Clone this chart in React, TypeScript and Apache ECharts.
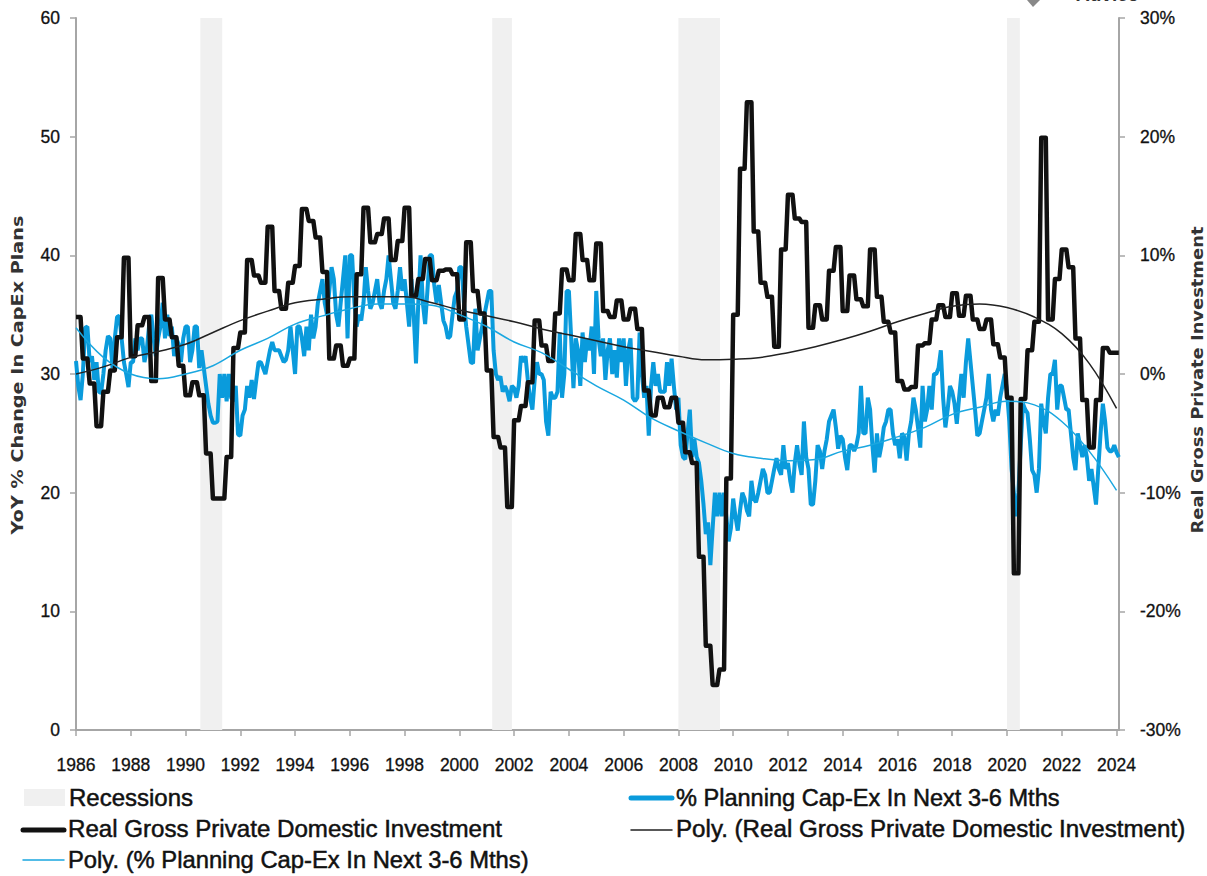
import React, { useEffect, useRef } from "react";
import * as echarts from "echarts";

const FONT = "'Liberation Sans', Arial, sans-serif";
const TITLE_FONT = "'DejaVu Sans', Verdana, sans-serif";
const START_YEAR = 1986;

const yearTicks = [1986, 1988, 1990, 1992, 1994, 1996, 1998, 2000, 2002, 2004, 2006, 2008, 2010, 2012, 2014, 2016, 2018, 2020, 2022, 2024];

// recession spans in decimal years
const recessionSpans = [
  [1990.54, 1991.34],
  [2001.2, 2001.92],
  [2008.0, 2009.52],
  [2020.0, 2020.47],
];

// % planning cap-ex in next 3-6 months, monthly from Jan 1986 (left axis)
const capexPlans = [
  31.1, 29, 27.8, 30, 33.9, 34, 31, 31.5, 29.5, 31, 28.5, 28.4,
  30, 32, 33.2, 33, 30.5, 33, 34.8, 34.9, 33, 31, 30, 28.9,
  31, 31, 33, 32, 33, 33, 31, 32, 34, 35, 33, 31.5,
  33, 34, 36, 33, 35, 33.2, 34, 31.5, 33, 32.5, 31, 33,
  34, 34, 31, 32, 34, 34, 30.5, 32, 30.5, 29, 27.5, 26.5,
  25.9, 25.9, 26, 30, 28, 30, 27.7, 30, 28, 27.7, 29, 24.9,
  24.8, 26.5, 27, 29, 28, 29.5, 27.9, 29.5, 31, 31, 30.5, 30,
  31, 32, 32.7, 32, 32, 32, 31.5, 31, 31.2, 32, 34, 32,
  30, 34, 34, 33, 31.5, 34, 32, 35, 33, 34, 36, 37,
  38, 36, 35, 37, 39, 38, 35, 34, 36, 38, 40, 33,
  40, 40, 36, 34, 35, 34.5, 36, 39, 37, 35.5, 36, 37,
  38, 36, 35.5, 37, 38, 40, 38, 36, 35.5, 37, 39, 37,
  38, 36, 34, 38, 35, 30.9, 36, 40, 36, 34.2, 37, 40,
  40, 37.5, 36, 37.5, 36, 34.5, 34, 33, 33.2, 35, 36.5, 37,
  39, 39, 36, 34, 32.5, 31, 30.9, 35.5, 32, 33, 34, 35,
  36, 37, 37, 32, 30, 29.5, 29.8, 28.5, 29, 28.5, 27.7, 29,
  28.8, 28, 29, 31.5, 31, 31.5, 29.5, 28, 27, 29.5, 31, 30,
  30, 29.5, 26, 24.8, 28.5, 28, 28, 28.5, 33.5, 28, 30, 37,
  37, 33, 28.8, 33, 32, 29, 33.5, 31, 33, 32, 34, 30,
  37, 33, 31.5, 33, 29.5, 32, 33, 30, 32, 29.7, 33, 31,
  33, 29, 32, 33, 28, 27.7, 28, 33.5, 30, 28, 29, 24.8,
  29, 31, 29, 30, 28.5, 28.5, 28.5, 31, 29, 31.3, 29, 27,
  28, 24, 23, 22.8, 25, 27, 23, 24.5, 23, 22.5, 21, 19,
  16.5, 17.5, 13.9, 17, 20, 18, 20, 18, 20, 18, 15.9, 17,
  19.5, 18, 16.8, 18.5, 20, 19.5, 18.5, 18, 21, 19.5, 19.2, 20,
  21, 22, 21.5, 20, 20, 21, 22, 22.9, 22, 21.5, 24, 22,
  22.5, 21, 20, 22.5, 24, 22.5, 21.5, 26, 23, 22, 19, 19,
  21, 24, 23.5, 22, 23.5, 24.5, 26, 26.5, 27, 25.5, 23.7, 24.8,
  24.5, 23, 21.9, 24, 24, 23.5, 24, 25, 29, 25, 25, 28,
  27, 24, 21.7, 25, 23, 24, 25.5, 26, 27, 27, 25, 24,
  24.5, 22.9, 25, 24.7, 22.7, 25, 26, 28, 27, 25.5, 23.8, 29,
  26, 27, 29, 27, 30, 30, 30.5, 32, 28, 25.5, 27, 29,
  28.5, 27.5, 25.8, 28, 30, 28, 31, 33, 31, 29, 27, 24.8,
  25, 26, 27, 28, 30, 27, 26, 27, 26.5, 28, 29, 30,
  28.5, 26, 22, 20, 18, 20, 24, 27.5, 27, 26.7, 24.5, 21.9,
  21.5, 20, 22, 27.5, 26, 25, 28, 30, 30, 31.2, 27, 29,
  29, 28, 27, 27, 25, 23, 21.9, 25, 24, 23, 24, 23,
  21, 22, 20.5, 19, 22, 25, 27.5, 26, 23.8, 23.5, 23.5, 24,
  23.4, 23,
];

// real gross private domestic investment, quarterly from 1986 Q1 (right axis, %)
const investment = [
  4.8, 1.3, -0.8, -4.4,
  -1.5, 0.3, 3.1, 9.8,
  1.5, 4.1, 4.8, -0.6,
  8.1, 4.6, 3.1, 0.7,
  -1.8, -0.7, -1.8, -6.7,
  -10.5, -10.5, -7.0, 2.2,
  3.5, 9.6, 8.3, 7.7,
  12.4, 7.0, 5.5, 7.7,
  9.1, 13.9, 12.9, 11.5,
  8.6, 1.3, 2.4, 0.7,
  1.3, 8.4, 14.0, 11.1,
  11.8, 13.1, 9.6, 11.2,
  14.0, 6.6, 8.0, 9.7,
  7.9, 8.7, 8.8, 8.4,
  4.6, 11.1, 7.0, 5.1,
  0.3, -5.3, -6.2, -11.2,
  -3.9, -2.7, -0.7, 4.5,
  2.4, 1.1, 5.1, 8.8,
  7.9, 11.8, 9.6, 7.9,
  11.0, 5.3, 4.8, 6.2,
  4.6, 5.5, 3.8, -1.4,
  -3.5, -2.0, -2.8, -2.0,
  -4.1, -6.6, -7.5, -15.4,
  -22.9, -26.2, -24.9, -8.8,
  5.0, 17.3, 22.9, 12.0,
  7.7, 6.5, 2.3, 10.5,
  15.1, 13.1, 12.8, 3.9,
  5.8, 4.6, 8.7, 10.7,
  5.3, 8.3, 6.3, 5.7,
  10.5, 6.5, 4.4, 3.5,
  -0.6, -1.3, -1.1, 2.4,
  2.6, 4.6, 5.8, 4.8,
  6.8, 4.9, 6.6, 4.6,
  3.8, 4.6, 2.5, 1.4,
  -2.0, -16.8, -2.1, 2.0,
  4.4, 19.9, 4.6, 8.0,
  10.5, 9.0, 3.0, -2.2,
  -6.2, -2.2, 2.2, 1.8,
  1.8,
];

// polynomial trend read at each January
const trendYears = [1986, 1987, 1988, 1989, 1990, 1991, 1992, 1993, 1994, 1995, 1996, 1997, 1998, 1999, 2000, 2001, 2002, 2003, 2004, 2005, 2006, 2007, 2008, 2009, 2010, 2011, 2012, 2013, 2014, 2015, 2016, 2017, 2018, 2019, 2020, 2021, 2022, 2023, 2024];
const capexTrend = [33.9, 31.4, 30, 29.6, 30, 30.7, 32, 33, 34.2, 34.9, 35.5, 35.9, 35.9, 35.8, 35, 34, 32.7, 31.8, 30.4, 29, 27.8, 26.3, 25.2, 24.2, 23.3, 22.9, 22.7, 22.8, 23.5, 24, 24.7, 25.5, 26.6, 27.2, 27.7, 27.4, 26, 23.5, 20.2];
const investmentTrend = [0.0, 0.6, 1.4, 1.9, 2.5, 3.5, 4.5, 5.3, 6.0, 6.3, 6.5, 6.5, 6.5, 6.0, 5.4, 4.9, 4.4, 3.8, 3.3, 2.8, 2.3, 1.9, 1.5, 1.2, 1.25, 1.4, 1.8, 2.3, 2.9, 3.6, 4.4, 5.1, 5.7, 5.9, 5.6, 4.8, 3.4, 0.9, -2.9];

const legendRows = [
  { label: "Recessions", kind: "area", x: 24, y: 797, stretch: 1 },
  { label: "% Planning Cap-Ex In Next 3-6 Mths", kind: "blue", x: 631, y: 797, stretch: 0.982 },
  { label: "Real Gross Private Domestic Investment", kind: "black", x: 23, y: 829, stretch: 1.005 },
  { label: "Poly. (Real Gross Private Domestic Investment)", kind: "blackThin", x: 631, y: 829, stretch: 1.006 },
  { label: "Poly. (% Planning Cap-Ex In Next 3-6 Mths)", kind: "blueThin", x: 23, y: 859, stretch: 0.991 },
];

const BLUE = "#0a9bdc";
const BLUE_THIN = "#1aa7e0";
const BLACK = "#111111";
const AREA = "#f0f0f0";
const AXIS = "#a6a6a6";
const TEXT = "#111111";

function legendGraphics() {
  const out: any[] = [];
  for (const row of legendRows) {
    const w = 41;
    if (row.kind === "area") {
      out.push({ type: "rect", shape: { x: row.x, y: row.y - 8, width: w, height: 17 }, style: { fill: AREA } });
    } else {
      const styles: any = {
        blue: { stroke: BLUE, lineWidth: 5 },
        black: { stroke: BLACK, lineWidth: 5 },
        blackThin: { stroke: "#222", lineWidth: 1.5 },
        blueThin: { stroke: BLUE_THIN, lineWidth: 1.5 },
      };
      out.push({ type: "line", shape: { x1: row.x, y1: row.y + 1, x2: row.x + w, y2: row.y + 1 }, style: { ...styles[row.kind], lineCap: "round" } });
    }
    out.push({
      type: "text",
      x: row.x + 45,
      y: row.y,
      scaleX: row.stretch,
      style: { text: row.label, fill: TEXT, font: `24px ${FONT}`, textVerticalAlign: "middle", stroke: TEXT, lineWidth: 0.5 },
    });
  }
  return out;
}

function axisTitle(text: string, x: number, y: number, stretch: number) {
  return {
    type: "text",
    x,
    y,
    rotation: Math.PI / 2,
    scaleX: stretch,
    style: { text, fill: "#333", font: `bold 15.5px ${TITLE_FONT}`, textAlign: "center", textVerticalAlign: "middle" },
  };
}

export default function App() {
  const ref = useRef<HTMLDivElement>(null);
  useEffect(() => {
    document.body.style.margin = "0";
    const chart = echarts.init(ref.current!, undefined, { renderer: "svg" });
    const blueData = capexPlans.map((v, i) => [START_YEAR + i / 12, v]);
    const blackData: number[][] = [];
    investment.forEach((v, q) => {
      const t = START_YEAR + q / 4;
      const months = q === investment.length - 1 ? 2 : 3;
      for (let m = 0; m < months; m++) blackData.push([t + m / 12, v]);
    });
    const trendCommon = { type: "line", symbol: "none", smooth: 0.4, silent: true };
    const labelWeight = { textBorderColor: TEXT, textBorderWidth: 0.3 };
    chart.setOption({
      animation: false,
      backgroundColor: "#fff",
      textStyle: { fontFamily: FONT },
      grid: { left: 76, right: 88, top: 18, bottom: 146, outerBoundsMode: "none", containLabel: false },
      xAxis: {
        type: "value",
        min: 1986,
        max: 2024.09,
        splitLine: { show: false },
        axisLine: { lineStyle: { color: AXIS, width: 2 }, onZero: false },
        axisTick: { show: true, length: 6, customValues: yearTicks, lineStyle: { color: AXIS, width: 1.5 } },
        axisLabel: {
          customValues: yearTicks,
          margin: 26,
          fontSize: 17.5,
          color: TEXT,
          fontFamily: FONT,
          ...labelWeight,
          formatter: (v: number) => String(Math.round(v)),
        },
      },
      yAxis: [
        {
          type: "value",
          min: 0,
          max: 60,
          interval: 10,
          splitLine: { show: false },
          axisLine: { show: true, lineStyle: { color: AXIS, width: 2 } },
          axisTick: { show: true, length: 6, lineStyle: { color: AXIS, width: 1.5 } },
          axisLabel: { margin: 16, fontSize: 17.5, color: TEXT, fontFamily: FONT, ...labelWeight },
        },
        {
          type: "value",
          min: -30,
          max: 30,
          interval: 10,
          position: "right",
          splitLine: { show: false },
          axisLine: { show: true, lineStyle: { color: AXIS, width: 2 } },
          axisTick: { show: true, length: 6, lineStyle: { color: AXIS, width: 1.5 } },
          axisLabel: { margin: 21, fontSize: 17.5, color: TEXT, fontFamily: FONT, ...labelWeight, formatter: (v: number) => `${v}%` },
        },
      ],
      series: [
        {
          name: "% Planning Cap-Ex In Next 3-6 Mths",
          type: "line",
          yAxisIndex: 0,
          data: blueData,
          symbol: "none",
          z: 3,
          lineStyle: { color: BLUE, width: 4 },
          markArea: {
            silent: true,
            z: 1,
            itemStyle: { color: AREA },
            data: recessionSpans.map(([a, b]) => [{ xAxis: a }, { xAxis: b }]),
          },
        },
        {
          name: "Real Gross Private Domestic Investment",
          type: "line",
          yAxisIndex: 1,
          data: blackData,
          symbol: "none",
          z: 4,
          lineStyle: { color: BLACK, width: 4.5, join: "round" },
        },
        {
          ...trendCommon,
          name: "Poly. (Real Gross Private Domestic Investment)",
          yAxisIndex: 1,
          data: trendYears.map((y, i) => [y, investmentTrend[i]]),
          z: 5,
          lineStyle: { color: "#222", width: 1.5 },
        },
        {
          ...trendCommon,
          name: "Poly. (% Planning Cap-Ex In Next 3-6 Mths)",
          yAxisIndex: 0,
          data: trendYears.map((y, i) => [y, capexTrend[i]]),
          z: 5,
          lineStyle: { color: BLUE_THIN, width: 1.5 },
        },
      ],
      graphic: [
        ...legendGraphics(),
        axisTitle("YoY % Change In CapEx Plans", 18, 375, 1.24),
        axisTitle("Real Gross Private Investment", 1197, 380, 1.155),
        {
          type: "text",
          x: 1076,
          y: -15,
          style: { text: "Advice", fill: "#333", font: `bold 19px ${FONT}` },
        },
        {
          type: "polygon",
          shape: { points: [[1027, 0], [1040, 0], [1033, 7]] },
          style: { fill: "#888" },
        },
      ],
    });
    return () => chart.dispose();
  }, []);
  return <div ref={ref} style={{ position: "absolute", left: 0, top: 0, width: 1207, height: 876 }} />;
}
